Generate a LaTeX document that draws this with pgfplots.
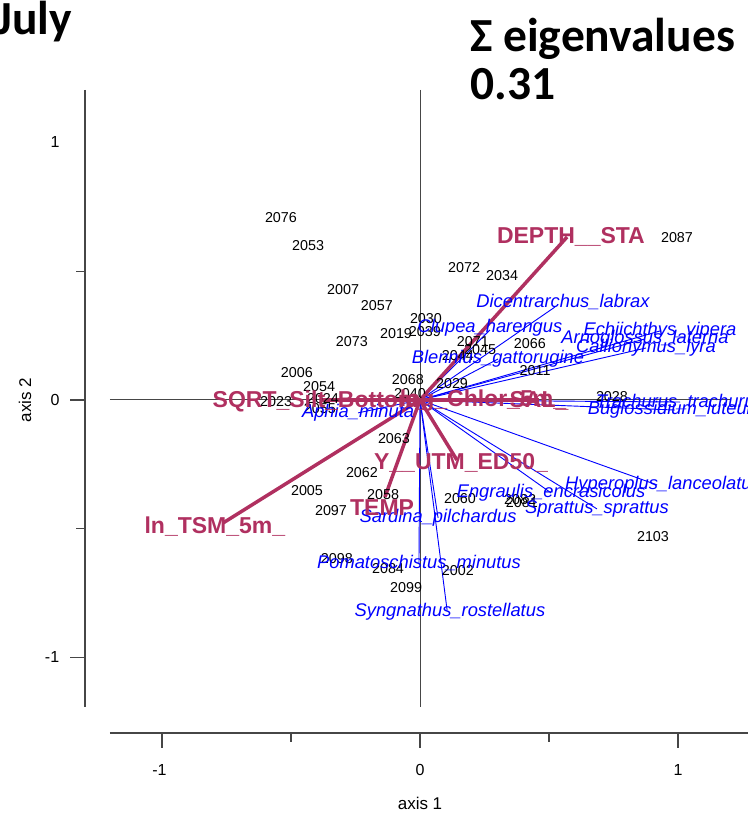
\documentclass[border=0pt]{standalone}
\usepackage{fontspec}
\setmainfont{Liberation Sans}
\newfontfamily\titlefont{Carlito}
\usepackage{pgfplots}
\pgfplotsset{compat=1.18}
\definecolor{rmaroon}{RGB}{176,48,96}
\definecolor{axgray}{RGB}{70,70,70}
\begin{document}
\begin{tikzpicture}
\path[use as bounding box] (0,0) rectangle (448.8pt,489pt);
\clip (0,0) rectangle (448.8pt,489pt);
\begin{axis}[at={(0,0)}, anchor=south west, scale only axis,
  width=448.8pt, height=489pt,
  xmin=-1.6279, xmax=1.2713, ymin=-1.6117, ymax=1.5534,
  hide axis, clip=false]
% crosshair
\draw[axgray, line width=0.6pt] (-1.2016,0) -- (1.2016,0);
\draw[axgray, line width=0.6pt] (0,1.2039) -- (0,-1.1922);
% left axis
\draw[axgray, line width=0.7pt] (-1.2984,1.2039) -- (-1.2984,-1.1922);
\draw[axgray, line width=0.7pt] (-1.2984,0) -- (-1.3566,0);
\draw[axgray, line width=0.7pt] (-1.2984,-1) -- (-1.3566,-1);
\draw[axgray, line width=0.7pt] (-1.2984,0.5) -- (-1.3333,0.5);
\draw[axgray, line width=0.7pt] (-1.2984,-0.5) -- (-1.3333,-0.5);
\node[font=\fontsize{9.6}{11}\selectfont] at (-1.4147,1) {1};
\node[font=\fontsize{9.6}{11}\selectfont] at (-1.4147,0) {0};
\node[font=\fontsize{9.6}{11}\selectfont] at (-1.4260,-1) {-1};
\node[font=\fontsize{10.2}{12}\selectfont, rotate=90] at (-1.531,0) {axis 2};
% bottom axis
\draw[axgray, line width=0.7pt] (-1.2016,-1.2932) -- (1.2713,-1.2932);
\draw[axgray, line width=0.7pt] (-1,-1.2932) -- (-1,-1.3515);
\draw[axgray, line width=0.7pt] (0,-1.2932) -- (0,-1.3515);
\draw[axgray, line width=0.7pt] (1,-1.2932) -- (1,-1.3515);
\draw[axgray, line width=0.7pt] (-0.5,-1.2932) -- (-0.5,-1.328);
\draw[axgray, line width=0.7pt] (0.5,-1.2932) -- (0.5,-1.328);
\node[font=\fontsize{9.6}{11}\selectfont] at (-1.01,-1.4369) {-1};
\node[font=\fontsize{9.6}{11}\selectfont] at (0,-1.4369) {0};
\node[font=\fontsize{9.6}{11}\selectfont] at (1,-1.4369) {1};
\node[font=\fontsize{10.2}{12}\selectfont] at (0,-1.565) {axis 1};
% titles
\node[anchor=base west, inner sep=0pt, font=\titlefont\bfseries\fontsize{28.5}{30}\selectfont] at (-1.6434,1.4175) {July};
\node[anchor=base west, inner sep=0pt, font=\titlefont\bfseries\fontsize{28.5}{30}\selectfont] at (0.1938,1.3515) {Σ eigenvalues};
\node[anchor=base west, inner sep=0pt, font=\titlefont\bfseries\fontsize{28.5}{30}\selectfont] at (0.1938,1.165) {0.31};
% sites
\addplot[only marks, mark=none, nodes near coords, point meta=explicit symbolic,
  every node near coord/.append style={anchor=center, inner sep=0pt, font=\fontsize{8.6}{10}\selectfont, text=black}]
table[meta=label] {
x y label
-0.539 0.707 2076
-0.434 0.598 2053
-0.298 0.427 2007
-0.167 0.365 2057
0.023 0.315 2030
0.019 0.264 2039
-0.093 0.256 2019
-0.264 0.225 2073
-0.477 0.105 2006
-0.391 0.054 2054
-0.558 -0.008 2023
-0.376 0.004 2024
-0.388 -0.035 2055
-0.047 0.078 2068
-0.039 0.023 2040
0.124 0.062 2029
-0.101 -0.148 2063
-0.225 -0.280 2062
-0.438 -0.350 2005
-0.143 -0.369 2058
-0.345 -0.431 2097
0.155 -0.381 2060
0.388 -0.385 2082
0.395 -0.400 2081
0.205 0.225 2071
0.233 0.194 2045
0.147 0.171 2044
0.426 0.221 2066
0.446 0.113 2011
0.171 0.513 2072
0.318 0.482 2034
0.996 0.629 2087
0.744 0.012 2028
0.903 -0.532 2103
-0.322 -0.614 2098
-0.124 -0.656 2084
0.147 -0.664 2002
-0.054 -0.730 2099
};
% species lines
\addplot[blue, line width=0.55pt, mark=none, quiver={u=\thisrow{u}, v=\thisrow{v}}]
table {
x y u v
0 0 0.523 0.361
0 0 0.271 0.272
0 0 0.302 0.159
0 0 0.930 0.268
0 0 0.872 0.237
0 0 0.876 0.202
0 0 1.008 -0.008
0 0 0.988 -0.039
0 0 0.919 -0.330
0 0 0.508 -0.361
0 0 0.686 -0.423
0 0 -0.240 -0.050
0 0 0.070 -0.458
0 0 -0.004 -0.633
0 0 0.105 -0.816
};
% species labels
\addplot[only marks, mark=none, nodes near coords, point meta=explicit symbolic,
  every node near coord/.append style={anchor=center, inner sep=0pt, font=\itshape\fontsize{11}{13}\selectfont, text=blue}]
table[meta=label] {
x y label
0.554 0.381 Dicentrarchus\_labrax
0.271 0.280 Clupea\_harengus
0.302 0.159 Blennius\_gattorugine
0.930 0.268 Echiichthys\_vipera
0.872 0.237 Arnoglossus\_laterna
0.876 0.202 Callionymus\_lyra
1.008 -0.008 Trachurus\_trachurus
0.988 -0.039 Buglossidium\_luteum
0.942 -0.330 Hyperoplus\_lanceolatus
0.508 -0.361 Engraulis\_encrasicolus
0.686 -0.423 Sprattus\_sprattus
-0.240 -0.050 Aphia\_minuta
0.070 -0.458 Sardina\_pilchardus
-0.004 -0.633 Pomatoschistus\_minutus
0.116 -0.823 Syngnathus\_rostellatus
};
% environmental vectors
\addplot[rmaroon, line width=2.1pt, mark=none, quiver={u=\thisrow{u}, v=\thisrow{v}}]
table {
x y u v
0 0 0.570 0.633
0 0 -0.764 -0.478
0 0 -0.380 0.000
0 0 0.244 0.000
0 0 0.461 0.000
0 0 -0.136 -0.377
0 0 0.143 -0.233
};
\addplot[only marks, mark=none, nodes near coords, point meta=explicit symbolic,
  every node near coord/.append style={anchor=center, inner sep=0pt, font=\bfseries\fontsize{13.8}{15}\selectfont, text=rmaroon}]
table[meta=label] {
x y label
0.585 0.633 DEPTH\_\_STA
-0.795 -0.493 ln\_TSM\_5m\_
-0.380 -0.004 SQRT\_Silt\_Bottom\_
0.244 -0.004 log\_Chlor\_5m\_
0.461 -0.004 SAL\_
-0.147 -0.419 TEMP
0.159 -0.245 Y\_\_UTM\_ED50\_
};
\end{axis}
\end{tikzpicture}
\end{document}
